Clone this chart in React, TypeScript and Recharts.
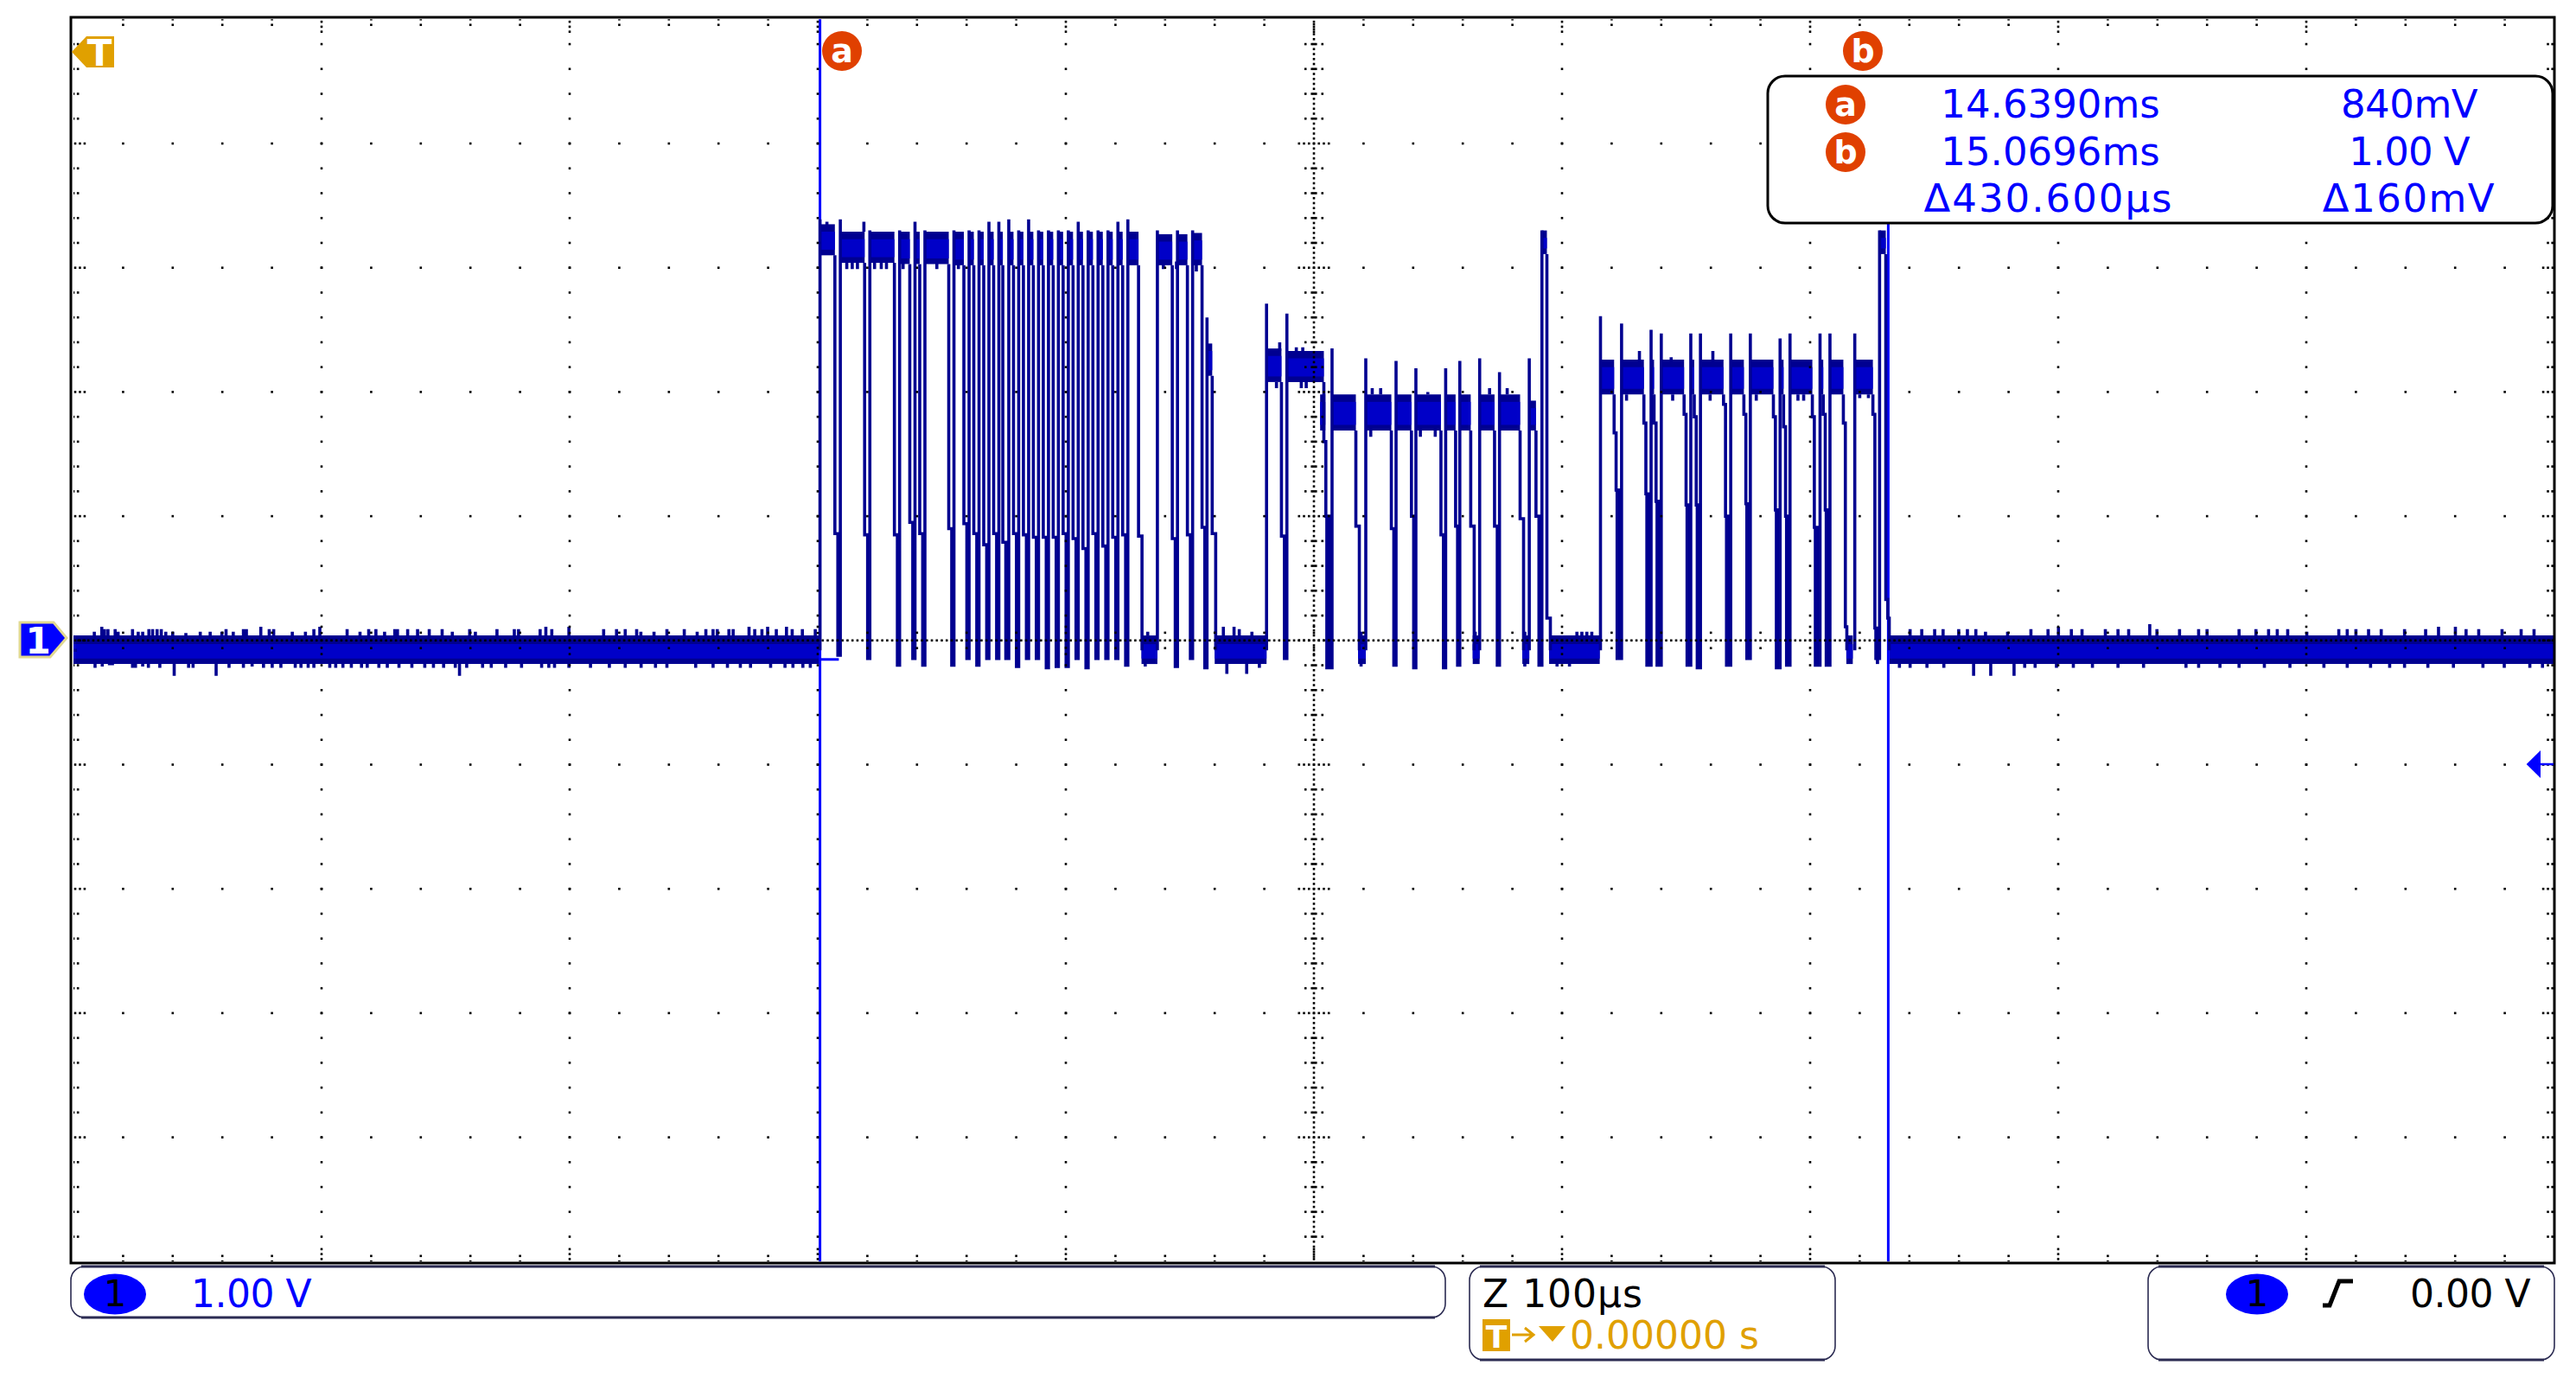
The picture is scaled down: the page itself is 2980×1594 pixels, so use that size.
import { ComposedChart, XAxis, YAxis, Line, Scatter, ReferenceLine, ReferenceArea } from "recharts";

// Time is in microseconds from the left edge of the screen (100us/div), voltage in volts (1V/div).
const cursorA = 300.9;
const cursorB = 731.5;

// One entry per dip in the burst
const pulseFall = [0,306.9,318.9,330.9,337.1,341.1,352.8,358.9,362.9,366.9,370.9,374.6,378.9,382.9,386.9,390.9,394.9,398.9,402.9,406.9,410.9,414.9,418.9,422.9,429.3,442.9,449,454.9,459,486.9,504,516.9,531.2,539.3,551.2,557.1,563.2,572.8,583.1,589.5,593.9,621,633,637.1,649.2,653.3,665.1,673.3,685.2,689.3,700.9,705.3,713.4,725.3,730.5];
const pulseRise = [300.9,309.1,321,333,339.2,343.2,354.9,361,365,369,373,377,381,385,389,393,397,401,405,409,413,417,421,425,436.9,445,451.1,456.9,480.9,489.1,507.3,520.9,533.1,541.1,553.1,558.8,566.8,574.8,586.8,591.9,615.5,624,635.9,640,651.9,655.8,668,675.9,687.9,691.9,704,708,718,728,1000];
const pulseShoulder = [-0.08,0.86,0.85,0.85,0.95,0.86,0.9,0.94,0.86,0.77,0.86,0.79,0.86,0.85,0.83,0.83,0.83,0.86,0.82,0.74,0.86,0.76,0.83,0.85,0.84,0.82,0.85,0.91,0.86,0.84,1.6,0.92,0.9,1,0.85,0.92,0.92,0.92,0.98,1,0.18,1.67,1.75,1.75,1.82,1.8,1.9,1.82,1.8,1.72,1.8,1.82,1.75,1.82,0.33];
const pulseKnee = [-0.08,0.86,0.85,0.85,0.95,0.86,0.9,0.94,0.86,0.77,0.86,0.79,0.86,0.85,0.83,0.83,0.83,0.86,0.82,0.74,0.86,0.76,0.83,0.85,0.84,0.82,0.85,0.91,0.86,0.84,1,0.92,0.9,1,0.85,0.92,0.92,0.92,0.98,1,0.18,1.21,1.18,1.12,1.09,1.09,1,1.1,1.05,1,0.91,1.05,0.11,0.1,0.18];
const pulseFloor = [-0.08,-0.12,-0.145,-0.2,-0.145,-0.2,-0.2,-0.145,-0.2,-0.145,-0.145,-0.145,-0.21,-0.145,-0.145,-0.22,-0.21,-0.21,-0.145,-0.22,-0.145,-0.145,-0.145,-0.2,-0.08,-0.21,-0.145,-0.22,-0.08,-0.145,-0.22,-0.08,-0.2,-0.22,-0.22,-0.2,-0.08,-0.2,-0.08,-0.2,-0.08,-0.145,-0.2,-0.2,-0.2,-0.22,-0.2,-0.145,-0.22,-0.2,-0.2,-0.2,-0.08,-0.145,-0.08];
const pulsePeak = [3.39,3.39,3.3,3.3,3.37,3.3,3.3,3.3,3.3,3.37,3.37,3.39,3.3,3.39,3.3,3.3,3.3,3.3,3.37,3.3,3.3,3.3,3.37,3.39,3.3,3.3,3.3,2.6,2.71,2.63,2.35,2.27,2.25,2.19,2.19,2.25,2.27,2.16,2.27,3.3,2.61,2.55,2.5,2.47,2.47,2.47,2.47,2.47,2.43,2.47,2.47,2.47,2.47,3.3,-0.08];
const plateauTop = [3.35,3.29,3.29,3.29,3.29,3.29,3.29,3.29,3.29,3.29,3.29,3.29,3.29,3.29,3.29,3.29,3.29,3.29,3.29,3.29,3.29,3.29,3.29,3.29,3.27,3.27,3.28,2.39,2.35,2.33,1.98,1.98,1.98,1.98,1.98,1.98,1.98,1.98,1.93,3.3,2.26,2.26,2.26,2.26,2.26,2.26,2.26,2.26,2.26,2.26,2.26,2.26,2.26,3.3];
const plateauBottom = [3.1,3.04,3.04,3.03,3.03,3.03,3.02,3.02,3.02,3.02,3.02,3.02,3.02,3.02,3.02,3.02,3.02,3.02,3.02,3.02,3.02,3.02,3.02,3.02,3.02,3.02,3.02,2.13,2.08,2.08,1.69,1.69,1.69,1.69,1.69,1.69,1.69,1.69,1.69,3.11,1.98,1.98,1.98,1.98,1.98,1.98,1.98,1.98,1.98,1.98,1.98,1.98,1.98,3.11];

// Short level just before the drop into the lower plateaus
const stepFrom = [502.5];
const stepTo = [504.6];
const stepTop = [1.98];
const stepBottom = [1.69];

// Stretches where the line sits at ground
const lowFrom = [0,430.5,460,517.8,564,584,594.8,714.6,726.5,732];
const lowTo = [300.9,436.9,480.9,520.9,566.8,586.8,615.2,717.2,727.8,1000];
const lowTop = 0.04;
const lowBottom = -0.19;
const lowCoreTop = -0.03;
const lowCoreBottom = -0.146;
const lowMiddle = -0.08;

// Noise teeth above the ground band
const lowUpT = [8.4,11.4,12.5,13.9,16.8,18,23.8,26.1,27.9,30.4,31.9,33.7,35.4,37.2,40,45.3,51.1,55.1,59.8,61.5,64.4,68.5,69.7,75.5,78.9,80.7,88.2,93.5,96.9,99.3,110.3,115.5,119,121.9,125.4,129.5,130.6,134.7,138.7,143.4,148.6,152.7,159.7,162,170.7,177.7,179.4,188.1,190.4,192.8,199.7,213.7,218.9,222.4,227,228.7,234,239.2,246.2,251.4,254.9,257.8,259.5,264.2,265.9,272.3,274.6,277.5,279.8,283.3,287.4,289.7,293.8,299,433,463.5,467.8,469.9,475,519,565,585,606,608,610,612,740.3,745,750.2,753.6,759.9,763.4,766.8,770.7,779.6,789,795.9,800.1,805.3,809.6,819,824.1,828.4,836.9,839.8,848.9,856.6,860,872.9,879.7,884.8,888.3,892.5,900.2,913.1,916.5,920,925.1,930.2,939.6,948.1,953.3,960.1,964.4,969.5,978.9,986.6,991.8];
const lowUpV = [0.07,0.11,0.09,0.09,0.09,0.07,0.09,0.07,0.07,0.09,0.09,0.09,0.09,0.07,0.07,0.06,0.07,0.07,0.07,0.09,0.07,0.09,0.09,0.11,0.09,0.09,0.07,0.07,0.09,0.11,0.09,0.07,0.09,0.09,0.07,0.09,0.09,0.09,0.09,0.09,0.09,0.07,0.09,0.07,0.09,0.09,0.09,0.09,0.11,0.09,0.11,0.09,0.09,0.09,0.09,0.07,0.07,0.09,0.09,0.07,0.09,0.09,0.09,0.09,0.09,0.11,0.09,0.09,0.11,0.09,0.11,0.09,0.09,0.09,0.07,0.11,0.11,0.09,0.07,0.07,0.07,0.07,0.07,0.07,0.07,0.07,0.09,0.09,0.09,0.09,0.09,0.09,0.09,0.07,0.07,0.09,0.09,0.11,0.09,0.09,0.09,0.09,0.09,0.13,0.09,0.09,0.09,0.09,0.09,0.09,0.09,0.09,0.09,0.07,0.09,0.09,0.09,0.09,0.09,0.09,0.09,0.11,0.11,0.09,0.09,0.09,0.09,0.09];

// Noise teeth below it
const lowDownT = [8.7,11.6,14.5,15.7,23.8,25,27.9,30.2,34.8,40.6,46.4,48.2,57.5,62.7,68.5,72,76.6,80.1,83.6,89.4,91.7,94.6,96.9,103.3,105.7,108.6,112,116.1,118.4,123.1,126.5,131.2,136.4,141.6,145.1,149.2,153.9,155.6,158.5,164.9,168.4,174.2,180.6,188.7,191.6,193.9,199.7,208.4,216,222.4,228.8,234.6,239.2,250.8,257.8,263.6,268.8,272.9,281,286.8,290,294,297,432,464.9,472.9,478,519,585,598,603,736,740.3,747.1,753.9,765.9,772.8,782.2,786.5,790.7,799.3,806.1,813.8,824.1,834.4,851.5,856.6,865.2,872.9,883.1,893.4,907.1,916.5,925.9,933.6,939.6,949,959.3,971.2,979.8,990.1,995.2];
const lowDownV = [-0.22,-0.21,-0.2,-0.2,-0.22,-0.22,-0.21,-0.22,-0.22,-0.285,-0.22,-0.22,-0.285,-0.22,-0.22,-0.21,-0.22,-0.22,-0.22,-0.22,-0.22,-0.22,-0.22,-0.22,-0.22,-0.22,-0.22,-0.22,-0.22,-0.22,-0.22,-0.22,-0.22,-0.22,-0.22,-0.22,-0.22,-0.285,-0.22,-0.22,-0.22,-0.22,-0.22,-0.22,-0.22,-0.22,-0.22,-0.22,-0.22,-0.22,-0.22,-0.22,-0.22,-0.22,-0.22,-0.22,-0.22,-0.22,-0.22,-0.22,-0.22,-0.22,-0.22,-0.21,-0.27,-0.27,-0.22,-0.21,-0.21,-0.21,-0.21,-0.22,-0.22,-0.22,-0.22,-0.285,-0.285,-0.285,-0.22,-0.22,-0.22,-0.22,-0.22,-0.22,-0.22,-0.22,-0.22,-0.22,-0.22,-0.22,-0.22,-0.22,-0.22,-0.22,-0.22,-0.22,-0.22,-0.22,-0.22,-0.22,-0.22,-0.22];

// Teeth on the burst plateaus: where each one leaves the band and where it ends
const burstToothT = [303.7,318.6,311.7,313.9,316,322.9,325.6,327.7,334.4,348,356.7,439.3,444.6,452.6,484.9,494.9,496.9,486.2,492.9,495.5,523.5,526.9,545.9,570.8,577.9,522.9,542.9,548.9,631.2,660.8,644,626,644.6,659.7,678.3,695.1,697.4,720,723.5];
const burstToothFrom = [3.29,3.29,3.05,3.05,3.05,3.05,3.05,3.05,3.05,3.05,3.05,3.05,3.05,3.05,2.08,2.08,2.08,2.33,2.33,2.33,1.98,1.98,1.98,1.98,1.98,1.69,1.69,1.69,2.26,2.26,2.26,1.98,1.98,1.98,1.98,1.98,1.98,1.98,1.98];
const burstToothTo = [3.37,3.37,2.99,2.99,2.99,2.99,2.99,2.99,2.99,2.99,2.99,2.99,2.99,2.97,2.03,2.03,2.03,2.4,2.36,2.36,2.03,2.03,2.0,2.03,2.03,1.64,1.64,1.64,2.33,2.33,2.28,1.93,1.93,1.93,1.93,1.93,1.93,1.95,1.95];

const traceRows: { t: number; v: number | null }[] = [];
pulseFall.forEach((fall, i) => {
  const rise = pulseRise[i];
  const shelf = fall + 0.8;
  const before = i === 0 ? lowMiddle : plateauBottom[i - 1];
  const add = (t: number, v: number | null) => traceRows.push({ t, v });
  add(fall, before);
  add(fall, pulseShoulder[i]);
  add(shelf, pulseShoulder[i]);
  add(shelf, pulseKnee[i]);
  if (rise - fall > 3.4) {
    add(shelf + 0.6, pulseKnee[i]);
    add(shelf + 0.6, pulseFloor[i]);
    add(shelf + 0.6, null);
  } else {
    add(rise, pulseKnee[i]);
    add(fall + 1.2, pulseKnee[i]);
    add(fall + 1.2, pulseFloor[i]);
    add(rise - 0.9, pulseFloor[i]);
    add(rise - 0.9, pulseKnee[i]);
    add(rise - 0.9, pulseFloor[i]);
  }
  add(rise, pulseFloor[i]);
  add(rise, pulsePeak[i]);
  add(rise, null);
});

const toothRows: { t: number; v: number | null }[] = [];
const addTooth = (t: number, from: number, to: number) => {
  toothRows.push({ t, v: from }, { t, v: to }, { t, v: null });
};
lowUpT.forEach((t, i) => addTooth(t, lowTop, lowUpV[i]));
lowDownT.forEach((t, i) => addTooth(t, lowBottom, lowDownV[i]));
burstToothT.forEach((t, i) => addTooth(t, burstToothFrom[i], burstToothTo[i]));

// Noise bands: the dark envelope with a brighter core where the samples pile up
const bands = [
  ...plateauTop.map((top, i) => ({ from: pulseRise[i], to: pulseFall[i + 1], top, bottom: plateauBottom[i], coreTop: top - 0.06, coreBottom: plateauBottom[i] + 0.045 })),
  ...stepTop.map((top, i) => ({ from: stepFrom[i], to: stepTo[i], top, bottom: stepBottom[i], coreTop: top - 0.06, coreBottom: stepBottom[i] + 0.045 })),
  ...lowFrom.map((from, i) => ({ from, to: lowTo[i], top: lowTop, bottom: lowBottom, coreTop: lowCoreTop, coreBottom: lowCoreBottom })),
];

// Scope graticule: dots on the 10x10 divisions, with ticks along the frame and centre axes
const graticule: { t: number; v: number }[] = [];
const dot = (t: number, v: number) => graticule.push({ t, v });
for (let d = 1; d < 10; d++) {
  for (let m = 1; m < 50; m++) {
    if (d !== 5) dot(m * 20, d - 5);
    if (d !== 5) dot(d * 100, m * 0.2 - 5);
  }
}
for (let i = 1; i < 500; i++) dot(i * 2, 0);
for (let i = 1; i < 250; i++) dot(500, i * 0.04 - 5);
for (let m = 1; m < 50; m++) {
  const t = m * 20;
  if (m % 5 === 0) {
    [0.02, 0.06, 0.1].forEach((o) => { dot(t, 5 - o); dot(t, -5 + o); });
    [0.06, 0.11].forEach((o) => { dot(t, o); dot(t, -o); });
  } else {
    [0.0, 0.045].forEach((o) => { dot(t, 5 - o); dot(t, -5 + o); });
    [0.062].forEach((o) => { dot(t, o); dot(t, -o); });
  }
  const v = m * 0.2 - 5;
  if (m % 5 === 0) {
    [0.7, 2.6, 4.5].forEach((o) => { dot(o, v); dot(1000 - o, v); });
    [2, 4, 6].forEach((o) => { dot(500 - o, v); dot(500 + o, v); });
  } else {
    [0, 1.8].forEach((o) => { dot(o, v); dot(1000 - o - 0.8, v); });
    [0.8, 3.4].forEach((o) => { dot(500 - o, v); dot(500 + o, v); });
  }
}

const FONT = "'DejaVu Sans', sans-serif";
const TRACE = "#000090";
const CORE = "#0000c8";
const CURSOR = "#0000ff";
const ORANGE = "#e04000";
const AMBER = "#e0a000";
const PANEL = "#2b2b52";

const GridDot = (p: any) => <rect x={p.cx - 1.3} y={p.cy - 1.3} width={2.6} height={2.6} fill="#000" />;

function Badge({ cx, cy, label }: { cx: number; cy: number; label: string }) {
  return (
    <g>
      <ellipse cx={cx} cy={cy} rx={23} ry={23} fill={ORANGE} />
      <text x={cx} y={cy + 13} textAnchor="middle" fontFamily={FONT} fontWeight="bold" fontSize={38} fill="#fff">{label}</text>
    </g>
  );
}

function Panel({ x, y, width, height }: { x: number; y: number; width: number; height: number }) {
  return (
    <g>
      <rect x={x} y={y} width={width} height={height} rx={16} ry={16} fill="#fff" stroke={PANEL} strokeWidth={1.6} />
      <line x1={x + 12} x2={x + width - 12} y1={y} y2={y} stroke={PANEL} strokeWidth={3} />
      <line x1={x + 12} x2={x + width - 12} y1={y + height} y2={y + height} stroke={PANEL} strokeWidth={3} />
    </g>
  );
}

function ChannelChip({ cx }: { cx: number }) {
  return (
    <g>
      <ellipse cx={cx} cy={1497} rx={36} ry={23.5} fill={CURSOR} />
      <text x={cx} y={1511} textAnchor="middle" fontFamily={FONT} fontSize={42} fill="#000">1</text>
    </g>
  );
}

function Overlay() {
  const readout = { fontFamily: FONT, fontSize: 45, fill: CURSOR, textAnchor: "middle" as const };
  const panelText = { fontFamily: FONT, fontSize: 44 };
  return (
    <svg width={2980} height={1594} style={{ position: "absolute", left: 0, top: 0, pointerEvents: "none" }}>
      <rect x={82} y={20} width={2873} height={1441} fill="none" stroke="#000" strokeWidth={3} />

      <polygon points="83,60 100,42 132,42 132,78 100,78" fill={AMBER} />
      <text x={115} y={76} textAnchor="middle" fontFamily={FONT} fontWeight="bold" fontSize={42} fill="#fff">T</text>

      <polygon points="23,720 62,720 77,738 58,760 23,760" fill={CURSOR} stroke="#e0d890" strokeWidth={3} />
      <text x={44} y={756} textAnchor="middle" fontFamily={FONT} fontWeight="bold" fontSize={42} fill="#fff">1</text>

      <polygon points="2922.7,884 2939,868 2939,900" fill={CURSOR} />
      <line x1={2939} x2={2954} y1={884} y2={884} stroke={CURSOR} strokeWidth={2.5} />

      <Badge cx={974} cy={59} label="a" />
      <Badge cx={2155} cy={59} label="b" />

      <rect x={2045} y={88} width={908} height={170} rx={20} ry={20} fill="#fff" stroke="#000" strokeWidth={3} />
      <Badge cx={2135} cy={121} label="a" />
      <Badge cx={2135} cy={176} label="b" />
      <text x={2372} y={136} {...readout}>14.6390ms</text>
      <text x={2787} y={136} {...readout} letterSpacing={-0.5}>840mV</text>
      <text x={2372} y={191} {...readout}>15.0696ms</text>
      <text x={2787} y={191} {...readout} letterSpacing={-1}>1.00 V</text>
      <text x={2370} y={245} {...readout} letterSpacing={2}>Δ430.600µs</text>
      <text x={2787} y={245} {...readout} letterSpacing={1.5}>Δ160mV</text>

      <Panel x={82} y={1465} width={1590} height={59} />
      <ChannelChip cx={133} />
      <text x={221} y={1512} {...panelText} letterSpacing={-0.5} fill={CURSOR}>1.00 V</text>

      <Panel x={1700} y={1465} width={423} height={108} />
      <text x={1715} y={1512} {...panelText} letterSpacing={1} fill="#000">Z 100µs</text>
      <rect x={1715} y={1526} width={32} height={37} fill={AMBER} />
      <text x={1731} y={1559} textAnchor="middle" fontFamily={FONT} fontWeight="bold" fontSize={36} fill="#fff">T</text>
      <path d="M1749 1544 H1772 M1764 1536 L1774 1544 L1764 1552" stroke={AMBER} strokeWidth={3} fill="none" />
      <polygon points="1780,1534 1811,1534 1796,1552" fill={AMBER} />
      <text x={1816} y={1560} {...panelText} fill={AMBER}>0.00000 s</text>

      <Panel x={2485} y={1465} width={470} height={108} />
      <ChannelChip cx={2611} />
      <path d="M2687 1510 H2695 L2706 1482 H2722" stroke="#000" strokeWidth={5} fill="none" />
      <text x={2788} y={1512} {...panelText} letterSpacing={-0.5} fill="#000">0.00 V</text>
    </svg>
  );
}

export default function App() {
  return (
    <div style={{ position: "absolute", left: 0, top: 0, width: 2980, height: 1594, background: "#fff", overflow: "hidden" }}>
      <ComposedChart width={2980} height={1594} margin={{ top: 22.3, right: 25, bottom: 134.7, left: 85 }}>
        <XAxis dataKey="t" type="number" domain={[0, 1000]} hide allowDataOverflow />
        <YAxis dataKey="v" type="number" domain={[-5, 5]} hide allowDataOverflow />
        {bands.map((b, i) => (
          <ReferenceArea key={`band-${i}`} x1={b.from} x2={b.to} y1={b.bottom} y2={b.top} fill={TRACE} fillOpacity={1} stroke="none" />
        ))}
        {bands.map((b, i) => (
          <ReferenceArea key={`core-${i}`} x1={b.from} x2={b.to} y1={b.coreBottom} y2={b.coreTop} fill={CORE} fillOpacity={1} stroke="none" />
        ))}
        <ReferenceLine x={cursorA} stroke={CURSOR} strokeWidth={3} />
        <ReferenceLine segment={[{ x: cursorB, y: 3.36 }, { x: cursorB, y: -5 }]} stroke={CURSOR} strokeWidth={3} />
        <ReferenceLine segment={[{ x: cursorA, y: -0.153 }, { x: cursorA + 7.6, y: -0.153 }]} stroke={CURSOR} strokeWidth={3} />
        <Line data={traceRows} dataKey="v" stroke={TRACE} strokeWidth={3.6} dot={false} activeDot={false} isAnimationActive={false} />
        <Line data={toothRows} dataKey="v" stroke={TRACE} strokeWidth={3.6} dot={false} activeDot={false} isAnimationActive={false} />
        <Scatter data={graticule} shape={GridDot} isAnimationActive={false} />
      </ComposedChart>
      <Overlay />
    </div>
  );
}
